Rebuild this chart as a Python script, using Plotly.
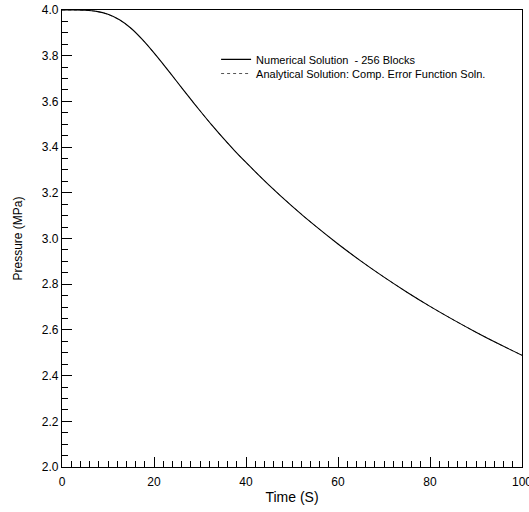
import plotly.graph_objects as go

time_s = [0, 2.5, 5, 7.5, 10, 12.5, 15, 17.5, 20, 22.5, 25, 27.5, 30, 32.5, 35, 37.5,
          40, 45, 50, 55, 60, 65, 70, 75, 80, 85, 90, 95, 100]
numerical = [4.000, 4.000, 3.999, 3.994, 3.981, 3.957, 3.920, 3.870, 3.812, 3.750, 3.686,
             3.622, 3.559, 3.498, 3.440, 3.385, 3.333, 3.234, 3.142, 3.056, 2.976,
             2.901, 2.831, 2.765, 2.703, 2.645, 2.590, 2.538, 2.489]
analytical = [4.000, 4.000, 3.999, 3.994, 3.981, 3.957, 3.920, 3.870, 3.812, 3.750, 3.686,
              3.622, 3.559, 3.498, 3.440, 3.385, 3.333, 3.234, 3.142, 3.056, 2.976,
              2.901, 2.831, 2.765, 2.703, 2.645, 2.590, 2.538, 2.489]

FONT = "Liberation Sans, Arial, sans-serif"

fig = go.Figure()
fig.add_trace(go.Scatter(x=time_s, y=analytical, mode="lines",
                         name="Analytical Solution: Comp. Error Function Soln.",
                         line=dict(color="#555555", width=1, dash="dot", shape="spline", smoothing=0.8),
                         legend="legend2"))
fig.add_trace(go.Scatter(x=time_s, y=numerical, mode="lines",
                         name="Numerical Solution  - 256 Blocks",
                         line=dict(color="black", width=1.1, shape="spline", smoothing=0.8),
                         legend="legend"))

axis_common = dict(showline=True, linecolor="black", linewidth=1.2, mirror=True,
                   ticks="inside", ticklen=10, tickwidth=1, tickcolor="black",
                   showgrid=False, zeroline=False, ticklabeloverflow="allow",
                   automargin=False,
                   tickfont=dict(family=FONT, size=12, color="black"))

fig.update_layout(
    width=529, height=512,
    margin=dict(l=62, r=7, t=10, b=45),
    plot_bgcolor="white", paper_bgcolor="white",
    font=dict(family=FONT, size=12, color="black"),
    xaxis=dict(range=[0, 100], dtick=20, tick0=0, ticklabelstandoff=3,
               title=dict(text="Time (S)", font=dict(family=FONT, size=14), standoff=4),
               minor=dict(dtick=2, ticks="inside", ticklen=6, tickcolor="black"),
               **axis_common),
    yaxis=dict(range=[2, 4], dtick=0.2, tick0=2, tickformat=".1f",
               title=dict(text="Pressure (MPa)", font=dict(family=FONT, size=12), standoff=16),
               minor=dict(dtick=0.05, ticks="inside", ticklen=6, tickcolor="black"),
               **axis_common),
    legend=dict(x=0.335, y=0.892, xanchor="left", yanchor="middle",
                bgcolor="rgba(0,0,0,0)", borderwidth=0,
                font=dict(family=FONT, size=11, color="black")),
    legend2=dict(x=0.335, y=0.861, xanchor="left", yanchor="middle",
                 bgcolor="rgba(0,0,0,0)", borderwidth=0,
                 font=dict(family=FONT, size=11, color="black")),
    showlegend=True,
)

fig.write_html("out.html")
